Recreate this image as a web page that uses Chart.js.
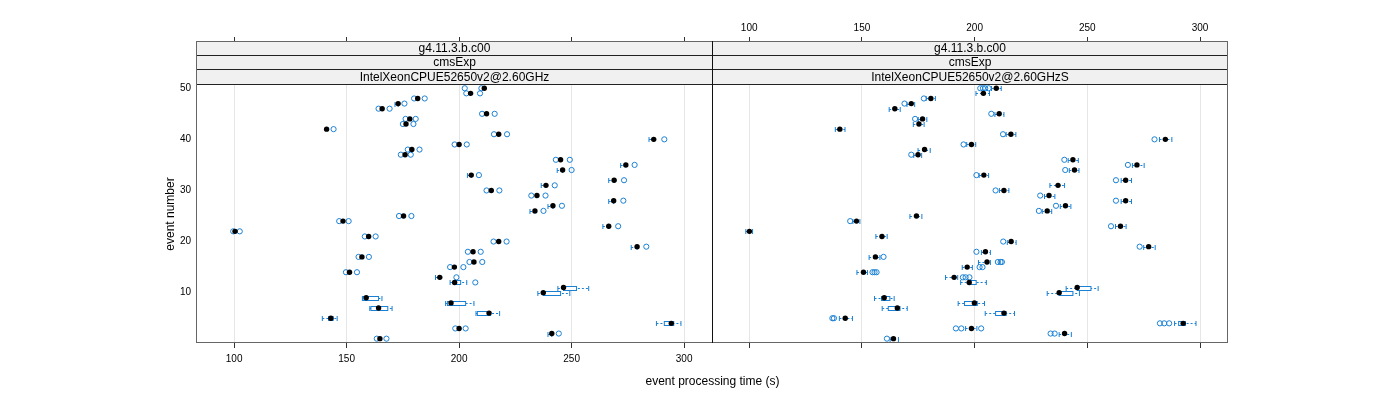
<!DOCTYPE html>
<html>
<head>
<meta charset="utf-8">
<script src="https://cdn.jsdelivr.net/npm/chart.js@4.4.0/dist/chart.umd.min.js"></script>
<style>
  body { margin: 0; background: #fff; font-family: 'Liberation Sans', Arial, sans-serif; }
  #wrap { position: relative; width: 1400px; height: 400px; overflow: hidden; }
  #wrap canvas { position: absolute; top: 0; }
  .strips { position: absolute; top: 42px; height: 43px; }
  .strips div { box-sizing: border-box; height: 14px; line-height: 13px; background: #f0f0f0;
    border-bottom: 1px solid #222; text-align: center; font-size: 12px; color: #000; white-space: nowrap; }
  .strips div:last-child { height: 15px; line-height: 14px; }
  .frame { position: absolute; left: 196px; top: 41px; width: 1032px; height: 302px;
    box-sizing: border-box; border: 1px solid #666; pointer-events: none; }
  .divider { position: absolute; left: 712px; top: 41px; width: 1px; height: 302px; background: #111; }
  .title { position: absolute; font-size: 12px; color: #000; white-space: nowrap; }
</style>
</head>
<body>
<div id="wrap">
  <canvas id="panelA" width="712" height="400" style="left:0"></canvas>
  <canvas id="panelB" width="688" height="400" style="left:712px"></canvas>
  <div class="strips" style="left:197px;width:515px">
    <div>g4.11.3.b.c00</div><div>cmsExp</div><div>IntelXeonCPUE52650v2@2.60GHz</div>
  </div>
  <div class="strips" style="left:713px;width:514px">
    <div>g4.11.3.b.c00</div><div>cmsExp</div><div>IntelXeonCPUE52650v2@2.60GHzS</div>
  </div>
  <div class="frame"></div>
  <div class="divider"></div>
  <div class="title" style="left:197px;width:1031px;top:374px;text-align:center">event processing time (s)</div>
  <div class="title" style="left:170px;top:214px;transform:translate(-50%,-50%) rotate(-90deg)">event number</div>
</div>
<script>
// event numbers 1..50
const events = Array.from({ length: 50 }, (_, i) => i + 1);
const xTicks = [100, 150, 200, 250, 300];
const yTicks = [10, 20, 30, 40, 50];

// left panel (2.60GHz): medians, outliers, boxes [event, q1, q3], whiskers [event, lo, hi]
const medA = [164.8, 241.2, 200.0, 294.3, 143.0, 213.3, 164.2, 196.4, 158.7, 237.4,
              246.4, 198.0, 191.4, 151.3, 197.9, 206.6, 156.8, 206.2, 279.1, 217.6,
              159.8, 100.4, 266.5, 148.4, 175.3, 233.7, 241.7, 268.7, 234.6, 214.3,
              238.6, 268.9, 205.4, 246.0, 274.1, 245.1, 176.0, 179.0, 200.0, 286.5,
              217.6, 141.1, 176.4, 178.1, 212.2, 165.8, 172.9, 181.6, 205.1, 211.2];
const outA = [[163.4, 167.7], [244.3], [198.3, 202.9], [], [], [], [], [], [], [],
              [], [207.2], [198.8], [149.7, 154.6], [196.0, 201.9], [204.6, 210.3], [155.3, 159.9], [203.9, 209.6], [283.2], [215.3, 221.1],
              [158.1, 162.9], [99.6, 102.5], [270.7], [146.7, 150.9], [173.3, 178.8], [237.5], [245.7], [273.0], [232.1, 238.4], [212.2, 217.9],
              [242.5], [273.3], [208.8], [250.0], [278.0], [243.0, 249.2], [174.1, 178.5], [177.2, 182.4], [198.0, 203.4], [291.2],
              [215.5, 221.3], [144.2], [175.0, 179.7], [176.2, 180.7], [210.2, 215.8], [164.2, 169.1], [175.7], [180.0, 184.7], [203.2, 209.3], [202.5, 209.9]];
const boxA = [[4, 291.2, 295.4], [5, 142.0, 144.0], [6, 208.1, 214.0], [7, 160.8, 168.3], [8, 194.8, 202.9],
              [9, 157.3, 164.2], [10, 237.4, 245.1], [11, 246.4, 252.2], [12, 198.0, 200.7]];
const whiskA = [[2, 239.5, 241.2], [4, 287.7, 298.6], [5, 139.2, 145.8], [6, 207.5, 218.0], [7, 160.3, 170.2],
                [8, 194.0, 206.6], [9, 157.0, 165.7], [10, 235.0, 249.2], [11, 243.9, 257.6], [12, 196.0, 203.4],
                [13, 189.5, 191.4], [19, 276.5, 279.1], [23, 263.9, 266.5], [26, 231.5, 233.7], [27, 239.5, 241.7],
                [28, 266.5, 268.7], [31, 236.5, 238.6], [32, 266.5, 268.9], [33, 203.7, 205.4], [34, 243.6, 246.0],
                [35, 271.8, 274.1], [40, 284.4, 286.5], [47, 171.5, 172.9]];

// right panel (2.60GHzS)
const medB = [164.0, 239.9, 198.6, 292.5, 142.6, 213.0, 165.7, 199.9, 159.9, 237.5,
              245.5, 197.6, 190.9, 150.7, 196.7, 205.5, 156.0, 204.8, 277.2, 216.2,
              158.9, 100.1, 264.7, 147.6, 174.2, 232.2, 240.3, 267.0, 233.0, 213.0,
              237.0, 267.0, 204.1, 244.3, 272.0, 243.6, 174.9, 177.8, 198.6, 284.6,
              216.1, 140.2, 175.3, 176.9, 210.9, 164.6, 171.9, 180.6, 203.9, 209.6];
const outB = [[161.1], [233.7, 235.5], [191.7, 194.1, 202.9], [282.2, 284.1, 286.3], [136.9, 137.6], [], [], [], [], [],
              [], [], [194.8, 196.0, 197.7], [154.7, 155.6, 156.5], [202.2, 203.5], [210.3, 211.5, 212.1], [159.6], [200.8], [273.2], [212.7],
              [], [], [260.5], [144.8], [], [228.5], [236.1], [262.7], [229.1], [209.3],
              [], [262.7], [200.8], [240.2], [268.0], [239.8], [171.9], [], [195.1], [279.8],
              [212.6], [], [], [173.6], [207.4], [], [168.9], [177.5], [], [202.5, 203.7, 204.7, 206.2]];
const boxB = [[4, 290.5, 293.5], [6, 209.3, 214.0], [7, 161.7, 166.9], [8, 195.5, 201.2],
              [9, 158.7, 162.4], [10, 237.5, 243.6], [11, 245.5, 251.6], [12, 197.6, 200.7]];
const whiskB = [[1, 162.5, 166.2], [2, 237.5, 242.9], [3, 196.0, 201.0], [4, 288.7, 298.2], [5, 140.0, 145.8],
                [6, 204.7, 217.7], [7, 159.0, 170.1], [8, 192.7, 204.4], [9, 155.6, 164.3], [10, 232.2, 246.5],
                [11, 240.6, 254.8], [12, 193.8, 205.2], [13, 187.1, 192.5], [14, 147.8, 152.5], [15, 194.5, 199.0],
                [16, 201.7, 207.0], [17, 153.2, 158.0], [18, 203.0, 207.0], [19, 275.0, 280.1], [20, 214.5, 218.4],
                [21, 156.2, 161.2], [22, 98.5, 101.5], [23, 262.5, 267.2], [24, 146.0, 149.1], [25, 171.3, 176.6],
                [26, 230.0, 234.2], [27, 238.0, 242.7], [28, 265.0, 269.6], [29, 231.0, 235.6], [30, 211.0, 215.2],
                [31, 233.4, 239.9], [32, 265.0, 269.6], [33, 202.0, 206.2], [34, 242.0, 246.3], [35, 270.0, 275.2],
                [36, 241.5, 246.0], [37, 173.0, 176.5], [38, 174.9, 180.3], [39, 196.5, 200.5], [40, 282.0, 287.5],
                [41, 214.0, 218.3], [42, 138.2, 142.5], [43, 172.8, 177.6], [44, 175.0, 178.8], [45, 209.0, 213.0],
                [46, 162.1, 167.0], [47, 170.0, 173.4], [48, 178.5, 182.6], [49, 200.6, 206.6], [50, 207.5, 211.8]];

const FONT = "'Liberation Sans', Arial, sans-serif";
const BLUE = '#1a80d4';
const X_MIN = 83.5, X_MAX = 312.4;
const Y_MIN = 0.15, Y_MAX = 59.05;

// boxes and whiskers drawn under the points, through the chart scales
function boxPlugin(whisk, box) {
  return {
    id: 'bw',
    beforeDatasetsDraw(chart) {
      const ctx = chart.ctx, x = chart.scales.x, y = chart.scales.y;
      ctx.save();
      ctx.strokeStyle = BLUE;
      ctx.lineWidth = 1;
      whisk.forEach(function (w) {
        const yy = Math.round(y.getPixelForValue(w[0])) + 0.5;
        const x1 = x.getPixelForValue(w[1]), x2 = x.getPixelForValue(w[2]);
        ctx.setLineDash([2, 2]);
        ctx.beginPath(); ctx.moveTo(x1, yy); ctx.lineTo(x2, yy); ctx.stroke();
        ctx.setLineDash([]);
        ctx.beginPath();
        ctx.moveTo(x1, yy - 2.5); ctx.lineTo(x1, yy + 2.5);
        ctx.moveTo(x2, yy - 2.5); ctx.lineTo(x2, yy + 2.5);
        ctx.stroke();
      });
      box.forEach(function (b) {
        const yy = Math.round(y.getPixelForValue(b[0])) + 0.5;
        const x1 = x.getPixelForValue(b[1]), x2 = x.getPixelForValue(b[2]);
        ctx.fillStyle = '#fff';
        ctx.fillRect(x1, yy - 2, x2 - x1, 4);
        ctx.strokeRect(x1, yy - 2, x2 - x1, 4);
      });
      ctx.restore();
    }
  };
}

function xScale(pos, showLabels, height) {
  return {
    type: 'linear', position: pos, min: X_MIN, max: X_MAX,
    afterBuildTicks: function (s) { s.ticks = xTicks.map(function (v) { return { value: v }; }); },
    afterFit: function (s) { s.height = height; },
    border: { display: false },
    grid: { drawOnChartArea: pos === 'bottom', color: '#e6e6e6', drawTicks: true, tickLength: 5, tickColor: '#333' },
    ticks: { color: showLabels ? '#000' : 'rgba(0,0,0,0)', font: { family: FONT, size: 10 }, padding: pos === 'bottom' ? 5 : 3, maxRotation: 0 }
  };
}

function makePanel(id, med, out, box, whisk, labelsBottom, showY) {
  const medPts = events.map(function (e, i) { return { x: med[i], y: e }; });
  const outPts = [];
  events.forEach(function (e, i) { out[i].forEach(function (v) { outPts.push({ x: v, y: e }); }); });

  new Chart(document.getElementById(id), {
    type: 'scatter',
    data: {
      datasets: [{
        label: 'median',
        data: medPts,
        pointRadius: 2.7,
        backgroundColor: '#000',
        borderWidth: 0
      }, {
        label: 'runs',
        data: outPts,
        pointRadius: 2.6,
        borderColor: BLUE,
        backgroundColor: 'rgba(0,0,0,0)',
        borderWidth: 1
      }]
    },
    options: {
      responsive: false,
      animation: false,
      events: [],
      layout: { autoPadding: false, padding: showY ? 0 : { left: 0, right: 172 } },
      plugins: { legend: { display: false }, tooltip: { enabled: false } },
      scales: {
        x: xScale('bottom', labelsBottom, 57),
        xt: xScale('top', !labelsBottom, 42),
        y: {
          type: 'linear', display: showY, min: Y_MIN, max: Y_MAX,
          afterBuildTicks: function (s) { s.ticks = yTicks.map(function (v) { return { value: v }; }); },
          afterFit: function (s) { s.width = showY ? 197 : 0; },
          border: { display: false },
          grid: { display: false, drawTicks: false },
          ticks: { color: '#000', font: { family: FONT, size: 10 }, padding: 6 }
        }
      }
    },
    plugins: [boxPlugin(whisk, box)]
  });
}

makePanel('panelA', medA, outA, boxA, whiskA, true, true);
makePanel('panelB', medB, outB, boxB, whiskB, false, false);
</script>
</body>
</html>
